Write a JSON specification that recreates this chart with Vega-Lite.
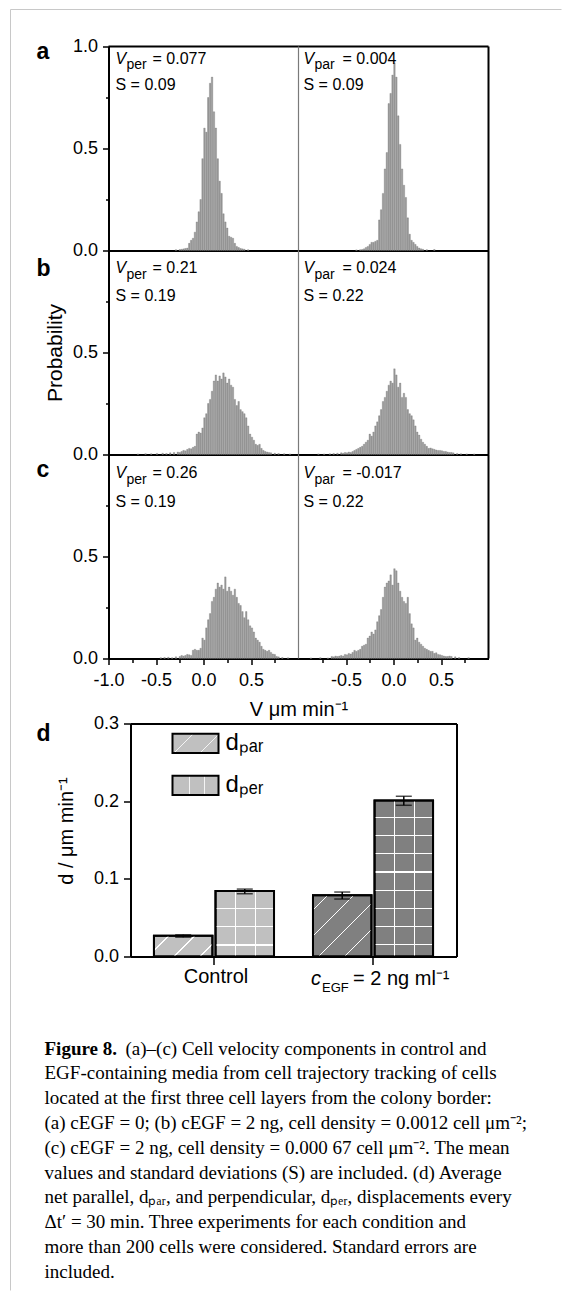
{
"$schema": "https://vega.github.io/schema/vega-lite/v6.json",
"padding": {"left": 9.5, "top": 8.5, "right": 0, "bottom": 0},
"background": "white",
"config": {
  "view": {"stroke": null},
  "font": "Liberation Sans",
  "axis": {"labelFont": "Liberation Sans", "titleFont": "Liberation Sans", "labelColor": "black", "titleColor": "black", "domainColor": "black", "tickColor": "black", "domainWidth": 2, "tickWidth": 1.5, "labelFontSize": 18, "titleFontWeight": "normal", "grid": false, "labelFlush": false, "labelOverlap": false},
  "text": {"font": "Liberation Sans", "color": "black"},
  "legend": {"labelFont": "Liberation Sans", "labelColor": "black"}
},
"concat": [
  {"width": 64, "height": 204, "data": {"values": []}, "mark": "point"},
  {"width": 190, "height": 204,
   "resolve": {"axis": {"x": "independent", "y": "independent"}},
   "layer": [
    {"data": {"values": [{"v":-0.29,"p":0.004},{"v":-0.25,"p":0.005},{"v":-0.23,"p":0.006},{"v":-0.21,"p":0.008},{"v":-0.19,"p":0.01},{"v":-0.17,"p":0.012},{"v":-0.15,"p":0.035},{"v":-0.13,"p":0.05},{"v":-0.11,"p":0.06},{"v":-0.09,"p":0.09},{"v":-0.07,"p":0.14},{"v":-0.05,"p":0.19},{"v":-0.03,"p":0.25},{"v":-0.01,"p":0.45},{"v":0.01,"p":0.6},{"v":0.03,"p":0.58},{"v":0.05,"p":0.75},{"v":0.07,"p":0.82},{"v":0.09,"p":0.85},{"v":0.11,"p":0.68},{"v":0.13,"p":0.6},{"v":0.15,"p":0.45},{"v":0.17,"p":0.34},{"v":0.19,"p":0.28},{"v":0.21,"p":0.18},{"v":0.23,"p":0.14},{"v":0.25,"p":0.11},{"v":0.27,"p":0.07},{"v":0.29,"p":0.065},{"v":0.31,"p":0.06},{"v":0.33,"p":0.035},{"v":0.35,"p":0.02},{"v":0.37,"p":0.015},{"v":0.39,"p":0.01},{"v":0.41,"p":0.008},{"v":0.43,"p":0.006},{"v":0.47,"p":0.004}]},
     "mark": {"type": "bar", "orient": "vertical", "width": 1.5, "fill": "#9c9c9c", "stroke": "#6e6e6e", "strokeWidth": 0.3},
     "encoding": {
      "x": {"field": "v", "type": "quantitative", "scale": {"domain": [-1, 1], "nice": false, "zero": false, "padding": 0}, "axis": {"title": null, "labels": false, "ticks": false}},
      "y": {"field": "p", "type": "quantitative", "scale": {"domain": [0, 1], "nice": false}, "axis": {"title": null, "values": [0, 0.25, 0.5, 0.75, 1], "format": ".1f", "labelExpr": "abs(datum.value*2-round(datum.value*2))<0.001 ? datum.label : ''", "tickSize": {"condition": {"test": "abs(datum.value*2-round(datum.value*2))<0.001", "value": 6}, "value": 3}, "labelPadding": 5}}
     }},
    {"data": {"values": [{}]}, "mark": {"type": "rule", "color": "#c8c8c8", "strokeWidth": 1}, "encoding": {"x": {"datum": -2.0316, "axis": null}, "x2": {"datum": 3.7684}, "y": {"datum": 1.18137, "axis": null}}},
    {"data": {"values": [{}]}, "mark": {"type": "rule", "color": "#c8c8c8", "strokeWidth": 1}, "encoding": {"x": {"datum": -2.0316, "axis": null}, "y": {"datum": 1.18137, "axis": null}, "y2": {"datum": -5.098}}},
    {"data": {"values": [{}]}, "mark": {"type": "rule", "color": "black", "strokeWidth": 2}, "encoding": {"x": {"datum": -1, "axis": null}, "x2": {"datum": 3}, "y": {"datum": 1, "axis": null}}},
    {"data": {"values": [{}]}, "encoding": {"x": {"datum": -1, "axis": null}, "y": {"datum": 1, "axis": null}}, "layer": [
      {"mark": {"type": "text", "text": "a", "fontSize": 23, "fontWeight": "bold", "align": "left", "baseline": "alphabetic", "dx": -72, "dy": 12}},
      {"mark": {"type": "text", "text": "V", "fontSize": 16, "fontStyle": "italic", "align": "left", "baseline": "alphabetic", "dx": 7, "dy": 17}},
      {"mark": {"type": "text", "text": "per", "fontSize": 14, "align": "left", "baseline": "alphabetic", "dx": 18, "dy": 22.5}},
      {"mark": {"type": "text", "text": "= 0.077", "fontSize": 16, "align": "left", "baseline": "alphabetic", "dx": 44, "dy": 17}},
      {"mark": {"type": "text", "text": "S = 0.09", "fontSize": 16, "align": "left", "baseline": "alphabetic", "dx": 7, "dy": 43.5}}
    ]}
  ]},
  {"width": 190, "height": 204,
   "resolve": {"axis": {"x": "independent", "y": "independent"}},
   "layer": [
    {"data": {"values": [{"v":-0.39,"p":0.003},{"v":-0.35,"p":0.004},{"v":-0.33,"p":0.005},{"v":-0.31,"p":0.008},{"v":-0.29,"p":0.015},{"v":-0.27,"p":0.02},{"v":-0.25,"p":0.03},{"v":-0.23,"p":0.04},{"v":-0.21,"p":0.04},{"v":-0.19,"p":0.045},{"v":-0.17,"p":0.05},{"v":-0.15,"p":0.15},{"v":-0.13,"p":0.2},{"v":-0.11,"p":0.28},{"v":-0.09,"p":0.4},{"v":-0.07,"p":0.48},{"v":-0.05,"p":0.72},{"v":-0.03,"p":0.77},{"v":-0.01,"p":0.86},{"v":0.01,"p":0.92},{"v":0.03,"p":0.85},{"v":0.05,"p":0.66},{"v":0.07,"p":0.52},{"v":0.09,"p":0.4},{"v":0.11,"p":0.32},{"v":0.13,"p":0.26},{"v":0.15,"p":0.16},{"v":0.17,"p":0.08},{"v":0.19,"p":0.05},{"v":0.21,"p":0.04},{"v":0.23,"p":0.03},{"v":0.25,"p":0.02},{"v":0.27,"p":0.012},{"v":0.29,"p":0.008},{"v":0.31,"p":0.006},{"v":0.35,"p":0.004},{"v":0.43,"p":0.005}]},
     "mark": {"type": "bar", "orient": "vertical", "width": 1.5, "fill": "#9c9c9c", "stroke": "#6e6e6e", "strokeWidth": 0.3},
     "encoding": {
      "x": {"field": "v", "type": "quantitative", "scale": {"domain": [-1, 1], "nice": false, "zero": false, "padding": 0}, "axis": {"title": null, "labels": false, "ticks": false}},
      "y": {"field": "p", "type": "quantitative", "scale": {"domain": [0, 1], "nice": false}, "axis": null}
     }},
    {"data": {"values": [{}]}, "mark": {"type": "rule", "color": "black", "strokeWidth": 2}, "encoding": {"x": {"datum": 1, "axis": null}, "y": {"datum": 0, "axis": null}, "y2": {"datum": 1}}},
    {"data": {"values": [{}]}, "mark": {"type": "rule", "color": "#7a7a7a", "strokeWidth": 1.2}, "encoding": {"x": {"datum": -1, "axis": null}, "y": {"datum": 0, "axis": null}, "y2": {"datum": 1}}},
    {"data": {"values": [{}]}, "encoding": {"x": {"datum": -1, "axis": null}, "y": {"datum": 1, "axis": null}}, "layer": [
      {"mark": {"type": "text", "text": "V", "fontSize": 16, "fontStyle": "italic", "align": "left", "baseline": "alphabetic", "dx": 5, "dy": 17}},
      {"mark": {"type": "text", "text": "par", "fontSize": 14, "align": "left", "baseline": "alphabetic", "dx": 16, "dy": 22.5}},
      {"mark": {"type": "text", "text": "= 0.004", "fontSize": 16, "align": "left", "baseline": "alphabetic", "dx": 44, "dy": 17}},
      {"mark": {"type": "text", "text": "S = 0.09", "fontSize": 16, "align": "left", "baseline": "alphabetic", "dx": 5, "dy": 43.5}}
    ]}
  ]},
  {"width": 64, "height": 204, "data": {"values": []}, "mark": "point"},
  {"width": 190, "height": 204,
   "resolve": {"axis": {"x": "independent", "y": "independent"}},
   "layer": [
    {"data": {"values": [{"v":-0.69,"p":0.003},{"v":-0.61,"p":0.004},{"v":-0.55,"p":0.004},{"v":-0.49,"p":0.005},{"v":-0.43,"p":0.006},{"v":-0.39,"p":0.005},{"v":-0.35,"p":0.008},{"v":-0.31,"p":0.01},{"v":-0.27,"p":0.012},{"v":-0.25,"p":0.01},{"v":-0.23,"p":0.015},{"v":-0.21,"p":0.02},{"v":-0.19,"p":0.018},{"v":-0.17,"p":0.025},{"v":-0.15,"p":0.03},{"v":-0.13,"p":0.028},{"v":-0.11,"p":0.035},{"v":-0.09,"p":0.04},{"v":-0.07,"p":0.1},{"v":-0.05,"p":0.11},{"v":-0.03,"p":0.105},{"v":-0.01,"p":0.13},{"v":0.01,"p":0.18},{"v":0.03,"p":0.2},{"v":0.05,"p":0.25},{"v":0.07,"p":0.27},{"v":0.09,"p":0.31},{"v":0.11,"p":0.36},{"v":0.13,"p":0.39},{"v":0.15,"p":0.36},{"v":0.17,"p":0.385},{"v":0.19,"p":0.37},{"v":0.21,"p":0.4},{"v":0.23,"p":0.38},{"v":0.25,"p":0.35},{"v":0.27,"p":0.37},{"v":0.29,"p":0.34},{"v":0.31,"p":0.33},{"v":0.33,"p":0.27},{"v":0.35,"p":0.24},{"v":0.37,"p":0.26},{"v":0.39,"p":0.22},{"v":0.41,"p":0.21},{"v":0.43,"p":0.2},{"v":0.45,"p":0.18},{"v":0.47,"p":0.14},{"v":0.49,"p":0.1},{"v":0.51,"p":0.085},{"v":0.53,"p":0.07},{"v":0.55,"p":0.05},{"v":0.57,"p":0.045},{"v":0.59,"p":0.05},{"v":0.61,"p":0.03},{"v":0.63,"p":0.02},{"v":0.65,"p":0.015},{"v":0.67,"p":0.012},{"v":0.69,"p":0.01},{"v":0.71,"p":0.008},{"v":0.75,"p":0.006},{"v":0.79,"p":0.005},{"v":0.85,"p":0.004},{"v":0.91,"p":0.003}]},
     "mark": {"type": "bar", "orient": "vertical", "width": 1.5, "fill": "#9c9c9c", "stroke": "#6e6e6e", "strokeWidth": 0.3},
     "encoding": {
      "x": {"field": "v", "type": "quantitative", "scale": {"domain": [-1, 1], "nice": false, "zero": false, "padding": 0}, "axis": {"title": null, "labels": false, "ticks": false}},
      "y": {"field": "p", "type": "quantitative", "scale": {"domain": [0, 1], "nice": false}, "axis": {"title": "Probability", "titleX": -53, "titleY": 102, "titleAngle": -90, "titleBaseline": "middle", "titleAlign": "center", "titleFontSize": 21, "values": [0, 0.25, 0.5, 0.75], "format": ".1f", "labelExpr": "abs(datum.value*2-round(datum.value*2))<0.001 ? datum.label : ''", "tickSize": {"condition": {"test": "abs(datum.value*2-round(datum.value*2))<0.001", "value": 6}, "value": 3}, "labelPadding": 5}}
     }},
    {"data": {"values": [{}]}, "encoding": {"x": {"datum": -1, "axis": null}, "y": {"datum": 1, "axis": null}}, "layer": [
      {"mark": {"type": "text", "text": "b", "fontSize": 23, "fontWeight": "bold", "align": "left", "baseline": "alphabetic", "dx": -72, "dy": 25.5}},
      {"mark": {"type": "text", "text": "V", "fontSize": 16, "fontStyle": "italic", "align": "left", "baseline": "alphabetic", "dx": 7, "dy": 22.5}},
      {"mark": {"type": "text", "text": "per", "fontSize": 14, "align": "left", "baseline": "alphabetic", "dx": 18, "dy": 28}},
      {"mark": {"type": "text", "text": "= 0.21", "fontSize": 16, "align": "left", "baseline": "alphabetic", "dx": 44, "dy": 22.5}},
      {"mark": {"type": "text", "text": "S = 0.19", "fontSize": 16, "align": "left", "baseline": "alphabetic", "dx": 7, "dy": 50}}
    ]}
  ]},
  {"width": 190, "height": 204,
   "resolve": {"axis": {"x": "independent", "y": "independent"}},
   "layer": [
    {"data": {"values": [{"v":-0.79,"p":0.003},{"v":-0.73,"p":0.003},{"v":-0.67,"p":0.004},{"v":-0.63,"p":0.005},{"v":-0.59,"p":0.006},{"v":-0.55,"p":0.008},{"v":-0.53,"p":0.006},{"v":-0.51,"p":0.01},{"v":-0.49,"p":0.008},{"v":-0.47,"p":0.012},{"v":-0.45,"p":0.01},{"v":-0.43,"p":0.015},{"v":-0.41,"p":0.02},{"v":-0.39,"p":0.025},{"v":-0.37,"p":0.03},{"v":-0.35,"p":0.035},{"v":-0.33,"p":0.04},{"v":-0.31,"p":0.05},{"v":-0.29,"p":0.06},{"v":-0.27,"p":0.07},{"v":-0.25,"p":0.1},{"v":-0.23,"p":0.09},{"v":-0.21,"p":0.11},{"v":-0.19,"p":0.14},{"v":-0.17,"p":0.16},{"v":-0.15,"p":0.19},{"v":-0.13,"p":0.22},{"v":-0.11,"p":0.26},{"v":-0.09,"p":0.28},{"v":-0.07,"p":0.31},{"v":-0.05,"p":0.34},{"v":-0.03,"p":0.36},{"v":-0.01,"p":0.35},{"v":0.01,"p":0.42},{"v":0.03,"p":0.39},{"v":0.05,"p":0.33},{"v":0.07,"p":0.35},{"v":0.09,"p":0.28},{"v":0.11,"p":0.3},{"v":0.13,"p":0.28},{"v":0.15,"p":0.22},{"v":0.17,"p":0.2},{"v":0.19,"p":0.19},{"v":0.21,"p":0.17},{"v":0.23,"p":0.14},{"v":0.25,"p":0.11},{"v":0.27,"p":0.095},{"v":0.29,"p":0.075},{"v":0.31,"p":0.06},{"v":0.33,"p":0.05},{"v":0.35,"p":0.04},{"v":0.37,"p":0.03},{"v":0.39,"p":0.032},{"v":0.41,"p":0.028},{"v":0.43,"p":0.025},{"v":0.45,"p":0.022},{"v":0.47,"p":0.02},{"v":0.49,"p":0.02},{"v":0.51,"p":0.018},{"v":0.53,"p":0.015},{"v":0.55,"p":0.015},{"v":0.57,"p":0.012},{"v":0.59,"p":0.01},{"v":0.61,"p":0.01},{"v":0.63,"p":0.008},{"v":0.67,"p":0.005},{"v":0.71,"p":0.004},{"v":0.77,"p":0.003},{"v":0.85,"p":0.003}]},
     "mark": {"type": "bar", "orient": "vertical", "width": 1.5, "fill": "#9c9c9c", "stroke": "#6e6e6e", "strokeWidth": 0.3},
     "encoding": {
      "x": {"field": "v", "type": "quantitative", "scale": {"domain": [-1, 1], "nice": false, "zero": false, "padding": 0}, "axis": {"title": null, "labels": false, "ticks": false}},
      "y": {"field": "p", "type": "quantitative", "scale": {"domain": [0, 1], "nice": false}, "axis": null}
     }},
    {"data": {"values": [{}]}, "mark": {"type": "rule", "color": "black", "strokeWidth": 2}, "encoding": {"x": {"datum": 1, "axis": null}, "y": {"datum": 0, "axis": null}, "y2": {"datum": 1}}},
    {"data": {"values": [{}]}, "mark": {"type": "rule", "color": "#7a7a7a", "strokeWidth": 1.2}, "encoding": {"x": {"datum": -1, "axis": null}, "y": {"datum": 0, "axis": null}, "y2": {"datum": 1}}},
    {"data": {"values": [{}]}, "encoding": {"x": {"datum": -1, "axis": null}, "y": {"datum": 1, "axis": null}}, "layer": [
      {"mark": {"type": "text", "text": "V", "fontSize": 16, "fontStyle": "italic", "align": "left", "baseline": "alphabetic", "dx": 5, "dy": 22.5}},
      {"mark": {"type": "text", "text": "par", "fontSize": 14, "align": "left", "baseline": "alphabetic", "dx": 16, "dy": 28}},
      {"mark": {"type": "text", "text": "= 0.024", "fontSize": 16, "align": "left", "baseline": "alphabetic", "dx": 44, "dy": 22.5}},
      {"mark": {"type": "text", "text": "S = 0.22", "fontSize": 16, "align": "left", "baseline": "alphabetic", "dx": 5, "dy": 50}}
    ]}
  ]},
  {"width": 64, "height": 204, "data": {"values": []}, "mark": "point"},
  {"width": 190, "height": 204,
   "resolve": {"axis": {"x": "independent", "y": "independent"}},
   "layer": [
    {"data": {"values": [{"v":-0.45,"p":0.004},{"v":-0.41,"p":0.005},{"v":-0.37,"p":0.006},{"v":-0.33,"p":0.004},{"v":-0.29,"p":0.008},{"v":-0.25,"p":0.01},{"v":-0.23,"p":0.015},{"v":-0.21,"p":0.012},{"v":-0.19,"p":0.015},{"v":-0.17,"p":0.02},{"v":-0.15,"p":0.018},{"v":-0.13,"p":0.015},{"v":-0.11,"p":0.04},{"v":-0.09,"p":0.045},{"v":-0.07,"p":0.04},{"v":-0.05,"p":0.04},{"v":-0.03,"p":0.05},{"v":-0.01,"p":0.1},{"v":0.01,"p":0.09},{"v":0.03,"p":0.15},{"v":0.05,"p":0.19},{"v":0.07,"p":0.22},{"v":0.09,"p":0.28},{"v":0.11,"p":0.3},{"v":0.13,"p":0.34},{"v":0.15,"p":0.37},{"v":0.17,"p":0.35},{"v":0.19,"p":0.36},{"v":0.21,"p":0.34},{"v":0.23,"p":0.4},{"v":0.25,"p":0.33},{"v":0.27,"p":0.35},{"v":0.29,"p":0.33},{"v":0.31,"p":0.31},{"v":0.33,"p":0.34},{"v":0.35,"p":0.3},{"v":0.37,"p":0.27},{"v":0.39,"p":0.26},{"v":0.41,"p":0.23},{"v":0.43,"p":0.2},{"v":0.45,"p":0.23},{"v":0.47,"p":0.19},{"v":0.49,"p":0.16},{"v":0.51,"p":0.15},{"v":0.53,"p":0.13},{"v":0.55,"p":0.1},{"v":0.57,"p":0.09},{"v":0.59,"p":0.08},{"v":0.61,"p":0.06},{"v":0.63,"p":0.045},{"v":0.65,"p":0.04},{"v":0.67,"p":0.035},{"v":0.69,"p":0.04},{"v":0.71,"p":0.03},{"v":0.73,"p":0.022},{"v":0.75,"p":0.02},{"v":0.77,"p":0.01},{"v":0.79,"p":0.008},{"v":0.83,"p":0.005},{"v":0.89,"p":0.004}]},
     "mark": {"type": "bar", "orient": "vertical", "width": 1.5, "fill": "#9c9c9c", "stroke": "#6e6e6e", "strokeWidth": 0.3},
     "encoding": {
      "x": {"field": "v", "type": "quantitative", "scale": {"domain": [-1, 1], "nice": false, "zero": false, "padding": 0}, "axis": {"title": "V μm min⁻¹", "titleX": 190, "titleY": 57, "titleBaseline": "alphabetic", "titleAlign": "center", "titleFontSize": 20, "values": [-1, -0.75, -0.5, -0.25, 0, 0.25, 0.5, 0.75], "format": ".1f", "labelExpr": "abs(datum.value*2-round(datum.value*2))<0.001 ? replace(datum.label, '−', '-') : ''", "tickSize": {"condition": {"test": "abs(datum.value*2-round(datum.value*2))<0.001", "value": 6}, "value": 4}, "labelPadding": 7}},
      "y": {"field": "p", "type": "quantitative", "scale": {"domain": [0, 1], "nice": false}, "axis": {"title": null, "values": [0, 0.25, 0.5, 0.75], "format": ".1f", "labelExpr": "abs(datum.value*2-round(datum.value*2))<0.001 ? datum.label : ''", "tickSize": {"condition": {"test": "abs(datum.value*2-round(datum.value*2))<0.001", "value": 6}, "value": 3}, "labelPadding": 5}}
     }},
    {"data": {"values": [{}]}, "encoding": {"x": {"datum": -1, "axis": null}, "y": {"datum": 1, "axis": null}}, "layer": [
      {"mark": {"type": "text", "text": "c", "fontSize": 23, "fontWeight": "bold", "align": "left", "baseline": "alphabetic", "dx": -72, "dy": 22}},
      {"mark": {"type": "text", "text": "V", "fontSize": 16, "fontStyle": "italic", "align": "left", "baseline": "alphabetic", "dx": 7, "dy": 23.5}},
      {"mark": {"type": "text", "text": "per", "fontSize": 14, "align": "left", "baseline": "alphabetic", "dx": 18, "dy": 29}},
      {"mark": {"type": "text", "text": "= 0.26", "fontSize": 16, "align": "left", "baseline": "alphabetic", "dx": 44, "dy": 23.5}},
      {"mark": {"type": "text", "text": "S = 0.19", "fontSize": 16, "align": "left", "baseline": "alphabetic", "dx": 7, "dy": 52.5}}
    ]}
  ]},
  {"width": 190, "height": 204,
   "resolve": {"axis": {"x": "independent", "y": "independent"}},
   "layer": [
    {"data": {"values": [{"v":-0.87,"p":0.003},{"v":-0.77,"p":0.004},{"v":-0.69,"p":0.003},{"v":-0.65,"p":0.01},{"v":-0.63,"p":0.008},{"v":-0.61,"p":0.012},{"v":-0.59,"p":0.01},{"v":-0.57,"p":0.012},{"v":-0.55,"p":0.015},{"v":-0.53,"p":0.012},{"v":-0.51,"p":0.02},{"v":-0.49,"p":0.018},{"v":-0.47,"p":0.025},{"v":-0.45,"p":0.022},{"v":-0.43,"p":0.03},{"v":-0.41,"p":0.04},{"v":-0.39,"p":0.035},{"v":-0.37,"p":0.04},{"v":-0.35,"p":0.045},{"v":-0.33,"p":0.06},{"v":-0.31,"p":0.065},{"v":-0.29,"p":0.07},{"v":-0.27,"p":0.1},{"v":-0.25,"p":0.11},{"v":-0.23,"p":0.13},{"v":-0.21,"p":0.12},{"v":-0.19,"p":0.14},{"v":-0.17,"p":0.18},{"v":-0.15,"p":0.21},{"v":-0.13,"p":0.24},{"v":-0.11,"p":0.3},{"v":-0.09,"p":0.35},{"v":-0.07,"p":0.37},{"v":-0.05,"p":0.38},{"v":-0.03,"p":0.41},{"v":-0.01,"p":0.36},{"v":0.01,"p":0.44},{"v":0.03,"p":0.43},{"v":0.05,"p":0.37},{"v":0.07,"p":0.33},{"v":0.09,"p":0.3},{"v":0.11,"p":0.28},{"v":0.13,"p":0.27},{"v":0.15,"p":0.3},{"v":0.17,"p":0.22},{"v":0.19,"p":0.17},{"v":0.21,"p":0.15},{"v":0.23,"p":0.09},{"v":0.25,"p":0.1},{"v":0.27,"p":0.08},{"v":0.29,"p":0.07},{"v":0.31,"p":0.06},{"v":0.33,"p":0.05},{"v":0.35,"p":0.045},{"v":0.37,"p":0.04},{"v":0.39,"p":0.035},{"v":0.41,"p":0.035},{"v":0.43,"p":0.025},{"v":0.45,"p":0.028},{"v":0.47,"p":0.02},{"v":0.49,"p":0.018},{"v":0.51,"p":0.015},{"v":0.53,"p":0.012},{"v":0.55,"p":0.01},{"v":0.57,"p":0.01},{"v":0.59,"p":0.012},{"v":0.61,"p":0.01},{"v":0.65,"p":0.008},{"v":0.69,"p":0.005},{"v":0.79,"p":0.004}]},
     "mark": {"type": "bar", "orient": "vertical", "width": 1.5, "fill": "#9c9c9c", "stroke": "#6e6e6e", "strokeWidth": 0.3},
     "encoding": {
      "x": {"field": "v", "type": "quantitative", "scale": {"domain": [-1, 1], "nice": false, "zero": false, "padding": 0}, "axis": {"title": null, "values": [-0.75, -0.5, -0.25, 0, 0.25, 0.5, 0.75], "format": ".1f", "labelExpr": "abs(datum.value*2-round(datum.value*2))<0.001 ? replace(datum.label, '−', '-') : ''", "tickSize": {"condition": {"test": "abs(datum.value*2-round(datum.value*2))<0.001", "value": 6}, "value": 4}, "labelPadding": 7}},
      "y": {"field": "p", "type": "quantitative", "scale": {"domain": [0, 1], "nice": false}, "axis": null}
     }},
    {"data": {"values": [{}]}, "mark": {"type": "rule", "color": "black", "strokeWidth": 2}, "encoding": {"x": {"datum": 1, "axis": null}, "y": {"datum": 0, "axis": null}, "y2": {"datum": 1}}},
    {"data": {"values": [{}]}, "mark": {"type": "rule", "color": "#7a7a7a", "strokeWidth": 1.2}, "encoding": {"x": {"datum": -1, "axis": null}, "y": {"datum": 0, "axis": null}, "y2": {"datum": 1}}},
    {"data": {"values": [{}]}, "encoding": {"x": {"datum": -1, "axis": null}, "y": {"datum": 1, "axis": null}}, "layer": [
      {"mark": {"type": "text", "text": "V", "fontSize": 16, "fontStyle": "italic", "align": "left", "baseline": "alphabetic", "dx": 5, "dy": 23.5}},
      {"mark": {"type": "text", "text": "par", "fontSize": 14, "align": "left", "baseline": "alphabetic", "dx": 16, "dy": 29}},
      {"mark": {"type": "text", "text": "= -0.017", "fontSize": 16, "align": "left", "baseline": "alphabetic", "dx": 44, "dy": 23.5}},
      {"mark": {"type": "text", "text": "S = 0.22", "fontSize": 16, "align": "left", "baseline": "alphabetic", "dx": 5, "dy": 52.5}}
    ]}
  ]},
  {"width": 1, "height": 65, "data": {"values": []}, "mark": "point"},
  {"width": 1, "height": 65, "data": {"values": []}, "mark": "point"},
  {"width": 1, "height": 65, "data": {"values": []}, "mark": "point"},
  {"width": 1, "height": 233, "data": {"values": []}, "mark": "point"},
  {"width": 190, "height": 233,
   "resolve": {"axis": {"x": "independent", "y": "independent"}},
   "layer": [
    {"data": {"values": [
       {"cond": "Control", "comp": "par", "d": 0.0266, "lo": 0.0249, "hi": 0.0279},
       {"cond": "Control", "comp": "per", "d": 0.0842, "lo": 0.0808, "hi": 0.0868},
       {"cond": "EGF", "comp": "par", "d": 0.079, "lo": 0.074, "hi": 0.083},
       {"cond": "EGF", "comp": "per", "d": 0.201, "lo": 0.1947, "hi": 0.2063}]},
     "encoding": {
       "x": {"field": "cond", "type": "nominal"},
       "xOffset": {"field": "comp", "type": "nominal"}
     },
     "layer": [
      {"mark": {"type": "bar", "strokeWidth": 2},
       "encoding": {
        "x": {"field": "cond", "type": "nominal", "scale": {"domain": ["Control", "EGF"], "range": [22, 348], "paddingInner": 0.245, "paddingOuter": 0.1475}, "axis": {"title": null, "labels": false, "tickSize": 8, "tickWidth": 1.5}},
        "xOffset": {"field": "comp", "type": "nominal", "scale": {"domain": ["par", "per"], "paddingInner": 0.05}},
        "y": {"field": "d", "type": "quantitative", "scale": {"domain": [0, 0.3], "nice": false}, "axis": {"offset": -22, "title": "d / μm min⁻¹", "titleX": -64, "titleY": 107, "titleAngle": -90, "titleBaseline": "middle", "titleAlign": "center", "titleFontSize": 20, "values": [0, 0.05, 0.1, 0.15, 0.2, 0.25, 0.3], "format": ".1f", "labelExpr": "abs(datum.value*10-round(datum.value*10))<0.001 ? datum.label : ''", "tickSize": {"condition": {"test": "abs(datum.value*10-round(datum.value*10))<0.001", "value": 7}, "value": 4}, "labelPadding": 5}},
        "fill": {"field": "cond", "type": "nominal", "scale": {"domain": ["Control", "EGF"], "range": ["#c0c0c0", "#808080"]}, "legend": null},
        "stroke": {"field": "comp", "type": "nominal", "scale": {"domain": ["par", "per"], "range": ["black", "black"]},
          "legend": {"title": null, "orient": "none", "legendX": 130.5, "legendY": 676.3, "direction": "vertical", "symbolType": "M-1.2,-0.5H1.2V0.5H-1.2Z", "symbolSize": 1470, "symbolStrokeWidth": 2, "symbolStrokeColor": "black", "symbolFillColor": "#c0c0c0", "labelFontSize": 24, "labelOffset": 9.5, "rowPadding": 7.1, "padding": 0, "labelExpr": "datum.value == 'par' ? 'dₚₐᵣ' : 'dₚₑᵣ'",
            "encode": {"symbols": {"update": {
              "fill": [
                {"test": "datum.value == 'par'", "value": {"gradient": "linear", "x1": 0, "y1": 0, "x2": 1.207, "y2": 0.504, "stops": [{"offset": 0, "color": "#c0c0c0"}, {"offset": 0.307, "color": "#c0c0c0"}, {"offset": 0.307, "color": "#f4f4f4"}, {"offset": 0.329, "color": "#f4f4f4"}, {"offset": 0.329, "color": "#c0c0c0"}, {"offset": 0.706, "color": "#c0c0c0"}, {"offset": 0.706, "color": "#f4f4f4"}, {"offset": 0.728, "color": "#f4f4f4"}, {"offset": 0.728, "color": "#c0c0c0"}, {"offset": 1, "color": "#c0c0c0"}]}},
                {"value": {"gradient": "linear", "x1": 0, "y1": 0, "x2": 1, "y2": 0, "stops": [{"offset": 0, "color": "#c0c0c0"}, {"offset": 0.35, "color": "#c0c0c0"}, {"offset": 0.35, "color": "#f4f4f4"}, {"offset": 0.372, "color": "#f4f4f4"}, {"offset": 0.372, "color": "#c0c0c0"}, {"offset": 0.69, "color": "#c0c0c0"}, {"offset": 0.69, "color": "#f4f4f4"}, {"offset": 0.712, "color": "#f4f4f4"}, {"offset": 0.712, "color": "#c0c0c0"}, {"offset": 1, "color": "#c0c0c0"}]}}
              ],
              "stroke": {"value": "black"}, "strokeWidth": {"value": 2}, "opacity": {"value": 1}}}}}}
       }},
      {"transform": [{"filter": "datum.cond == 'EGF' && datum.comp == 'per'"}],
       "mark": {"type": "bar", "strokeWidth": 0, "fill": {"gradient": "linear", "x1": 0, "y1": 1, "x2": 0, "y2": 0, "stops": [
         {"offset": 0, "color": "rgba(255,255,255,0)"},
         {"offset": 0.0705, "color": "rgba(255,255,255,0)"}, {"offset": 0.0705, "color": "white"}, {"offset": 0.0785, "color": "white"}, {"offset": 0.0785, "color": "rgba(255,255,255,0)"},
         {"offset": 0.1871, "color": "rgba(255,255,255,0)"}, {"offset": 0.1871, "color": "white"}, {"offset": 0.1951, "color": "white"}, {"offset": 0.1951, "color": "rgba(255,255,255,0)"},
         {"offset": 0.3036, "color": "rgba(255,255,255,0)"}, {"offset": 0.3036, "color": "white"}, {"offset": 0.3116, "color": "white"}, {"offset": 0.3116, "color": "rgba(255,255,255,0)"},
         {"offset": 0.4202, "color": "rgba(255,255,255,0)"}, {"offset": 0.4202, "color": "white"}, {"offset": 0.4282, "color": "white"}, {"offset": 0.4282, "color": "rgba(255,255,255,0)"},
         {"offset": 0.5368, "color": "rgba(255,255,255,0)"}, {"offset": 0.5368, "color": "white"}, {"offset": 0.5448, "color": "white"}, {"offset": 0.5448, "color": "rgba(255,255,255,0)"},
         {"offset": 0.6534, "color": "rgba(255,255,255,0)"}, {"offset": 0.6534, "color": "white"}, {"offset": 0.6614, "color": "white"}, {"offset": 0.6614, "color": "rgba(255,255,255,0)"},
         {"offset": 0.77, "color": "rgba(255,255,255,0)"}, {"offset": 0.77, "color": "white"}, {"offset": 0.778, "color": "white"}, {"offset": 0.778, "color": "rgba(255,255,255,0)"},
         {"offset": 0.8866, "color": "rgba(255,255,255,0)"}, {"offset": 0.8866, "color": "white"}, {"offset": 0.8946, "color": "white"}, {"offset": 0.8946, "color": "rgba(255,255,255,0)"},
         {"offset": 1, "color": "rgba(255,255,255,0)"}]}},
       "encoding": {"y": {"field": "d", "type": "quantitative"}}},
      {"transform": [{"filter": "datum.cond == 'Control' && datum.comp == 'per'"}],
       "mark": {"type": "bar", "strokeWidth": 0, "fill": {"gradient": "linear", "x1": 0, "y1": 1, "x2": 0, "y2": 0, "stops": [
         {"offset": 0, "color": "rgba(255,255,255,0)"},
         {"offset": 0.1682, "color": "rgba(255,255,255,0)"}, {"offset": 0.1682, "color": "white"}, {"offset": 0.1865, "color": "white"}, {"offset": 0.1865, "color": "rgba(255,255,255,0)"},
         {"offset": 0.4465, "color": "rgba(255,255,255,0)"}, {"offset": 0.4465, "color": "white"}, {"offset": 0.4648, "color": "white"}, {"offset": 0.4648, "color": "rgba(255,255,255,0)"},
         {"offset": 0.7248, "color": "rgba(255,255,255,0)"}, {"offset": 0.7248, "color": "white"}, {"offset": 0.7431, "color": "white"}, {"offset": 0.7431, "color": "rgba(255,255,255,0)"},
         {"offset": 1, "color": "rgba(255,255,255,0)"}]}},
       "encoding": {"y": {"field": "d", "type": "quantitative"}}},
      {"transform": [{"filter": "datum.comp == 'per'"}],
       "mark": {"type": "bar", "strokeWidth": 0, "fill": {"gradient": "linear", "x1": 0, "y1": 0, "x2": 1, "y2": 0, "stops": [
         {"offset": 0, "color": "rgba(255,255,255,0)"},
         {"offset": 0.333, "color": "rgba(255,255,255,0)"}, {"offset": 0.333, "color": "white"}, {"offset": 0.353, "color": "white"}, {"offset": 0.353, "color": "rgba(255,255,255,0)"},
         {"offset": 0.667, "color": "rgba(255,255,255,0)"}, {"offset": 0.667, "color": "white"}, {"offset": 0.687, "color": "white"}, {"offset": 0.687, "color": "rgba(255,255,255,0)"},
         {"offset": 1, "color": "rgba(255,255,255,0)"}]}},
       "encoding": {"y": {"field": "d", "type": "quantitative"}}},
      {"transform": [{"filter": "datum.cond == 'EGF' && datum.comp == 'par'"}],
       "mark": {"type": "bar", "strokeWidth": 0, "fill": {"gradient": "linear", "x1": 0, "y1": 0, "x2": 0.976, "y2": 1.0237, "stops": [
         {"offset": 0, "color": "rgba(255,255,255,0)"},
         {"offset": 0.117, "color": "rgba(255,255,255,0)"}, {"offset": 0.117, "color": "white"}, {"offset": 0.129, "color": "white"}, {"offset": 0.129, "color": "rgba(255,255,255,0)"},
         {"offset": 0.334, "color": "rgba(255,255,255,0)"}, {"offset": 0.334, "color": "white"}, {"offset": 0.346, "color": "white"}, {"offset": 0.346, "color": "rgba(255,255,255,0)"},
         {"offset": 0.55, "color": "rgba(255,255,255,0)"}, {"offset": 0.55, "color": "white"}, {"offset": 0.562, "color": "white"}, {"offset": 0.562, "color": "rgba(255,255,255,0)"},
         {"offset": 0.767, "color": "rgba(255,255,255,0)"}, {"offset": 0.767, "color": "white"}, {"offset": 0.779, "color": "white"}, {"offset": 0.779, "color": "rgba(255,255,255,0)"},
         {"offset": 1, "color": "rgba(255,255,255,0)"}]}},
       "encoding": {"y": {"field": "d", "type": "quantitative"}}},
      {"transform": [{"filter": "datum.cond == 'Control' && datum.comp == 'par'"}],
       "mark": {"type": "bar", "strokeWidth": 0, "fill": {"gradient": "linear", "x1": 0, "y1": 0, "x2": 1.203, "y2": 0.425, "stops": [
         {"offset": 0, "color": "rgba(255,255,255,0)"},
         {"offset": 0.177, "color": "rgba(255,255,255,0)"}, {"offset": 0.177, "color": "white"}, {"offset": 0.195, "color": "white"}, {"offset": 0.195, "color": "rgba(255,255,255,0)"},
         {"offset": 0.505, "color": "rgba(255,255,255,0)"}, {"offset": 0.505, "color": "white"}, {"offset": 0.523, "color": "white"}, {"offset": 0.523, "color": "rgba(255,255,255,0)"},
         {"offset": 0.834, "color": "rgba(255,255,255,0)"}, {"offset": 0.834, "color": "white"}, {"offset": 0.852, "color": "white"}, {"offset": 0.852, "color": "rgba(255,255,255,0)"},
         {"offset": 1, "color": "rgba(255,255,255,0)"}]}},
       "encoding": {"y": {"field": "d", "type": "quantitative"}}},
      {"mark": {"type": "bar", "fillOpacity": 0, "stroke": "black", "strokeWidth": 2},
       "encoding": {"y": {"field": "d", "type": "quantitative"}}},
      {"mark": {"type": "rule", "color": "black", "strokeWidth": 1.5},
       "encoding": {"y": {"field": "lo", "type": "quantitative"}, "y2": {"field": "hi"}}},
      {"mark": {"type": "tick", "color": "black", "size": 16, "thickness": 1.5},
       "encoding": {"y": {"field": "lo", "type": "quantitative"}}},
      {"mark": {"type": "tick", "color": "black", "size": 16, "thickness": 1.5},
       "encoding": {"y": {"field": "hi", "type": "quantitative"}}}
     ]},
    {"data": {"values": [{"cond": "Control"}]}, "encoding": {"x": {"field": "cond", "type": "nominal", "axis": null}, "y": {"datum": 0.3, "axis": null}}, "layer": [
      {"mark": {"type": "text", "text": "d", "fontSize": 23, "fontWeight": "bold", "align": "left", "baseline": "alphabetic", "dx": -177.5, "dy": 17}}
    ]},
    {"data": {"values": [{"cond": "Control"}]}, "encoding": {"x": {"field": "cond", "type": "nominal", "axis": {"orient": "top", "labels": false, "ticks": false, "title": null}}, "y": {"datum": 0, "axis": {"orient": "right", "labels": false, "ticks": false, "title": null, "offset": 158}}}, "layer": [
      {"mark": {"type": "text", "text": "Control", "fontSize": 20, "align": "center", "baseline": "alphabetic", "dx": 2, "dy": 26}}
    ]},
    {"data": {"values": [{"cond": "EGF"}]}, "encoding": {"x": {"field": "cond", "type": "nominal", "axis": null}, "y": {"datum": 0, "axis": null}}, "layer": [
      {"mark": {"type": "text", "text": "c", "fontSize": 20, "fontStyle": "italic", "align": "left", "baseline": "alphabetic", "dx": -62, "dy": 28}},
      {"mark": {"type": "text", "text": "EGF", "fontSize": 13, "align": "left", "baseline": "alphabetic", "dx": -51, "dy": 35}},
      {"mark": {"type": "text", "text": "= 2 ng ml⁻¹", "fontSize": 20, "align": "left", "baseline": "alphabetic", "dx": -20, "dy": 28}}
    ]}
   ]},
  {"width": 1, "height": 233, "data": {"values": []}, "mark": "point"},
  {"width": 1, "height": 97.3, "data": {"values": []}, "mark": "point"},
  {"width": 1, "height": 97.3, "data": {"values": []}, "mark": "point"},
  {"width": 1, "height": 97.3, "data": {"values": []}, "mark": "point"},
  {"width": 64, "height": 223.2,
   "encoding": {"x": {"datum": 0, "type": "quantitative", "scale": {"domain": [0, 1]}, "axis": null}},
   "layer": [
    {"data": {"values": [{"line": 1, "text": "Figure 8."}]},
     "mark": {"type": "text", "font": "Liberation Serif", "fontSize": 19, "fontWeight": "bold", "align": "left", "baseline": "alphabetic"},
     "encoding": {"y": {"field": "line", "type": "quantitative", "scale": {"domain": [1, 10], "reverse": true, "nice": false, "zero": false}, "axis": null}, "text": {"field": "text"}}},
    {"data": {"values": [{"line": 1, "text": "(a)–(c) Cell velocity components in control and"}]},
     "mark": {"type": "text", "font": "Liberation Serif", "fontSize": 19, "align": "left", "baseline": "alphabetic", "dx": 81},
     "encoding": {"y": {"field": "line", "type": "quantitative", "axis": null}, "text": {"field": "text"}}},
    {"data": {"values": [
       {"line": 2, "text": "EGF-containing media from cell trajectory tracking of cells"},
       {"line": 3, "text": "located at the first three cell layers from the colony border:"},
       {"line": 4, "text": "(a) cEGF = 0; (b) cEGF = 2 ng, cell density = 0.0012 cell μm⁻²;"},
       {"line": 5, "text": "(c) cEGF = 2 ng, cell density = 0.000 67 cell μm⁻². The mean"},
       {"line": 6, "text": "values and standard deviations (S) are included. (d) Average"},
       {"line": 7, "text": "net parallel, dₚₐᵣ, and perpendicular, dₚₑᵣ, displacements every"},
       {"line": 8, "text": "Δt′ = 30 min. Three experiments for each condition and"},
       {"line": 9, "text": "more than 200 cells were considered. Standard errors are"},
       {"line": 10, "text": "included."}]},
     "mark": {"type": "text", "font": "Liberation Serif", "fontSize": 19, "align": "left", "baseline": "alphabetic"},
     "encoding": {"y": {"field": "line", "type": "quantitative", "axis": null}, "text": {"field": "text"}}}
   ]},
  {"width": 1, "height": 223.2, "data": {"values": []}, "mark": "point"},
  {"width": 1, "height": 223.2, "data": {"values": []}, "mark": "point"}
],
"columns": 3, "spacing": 0, "bounds": "flush", "align": "each"
}
